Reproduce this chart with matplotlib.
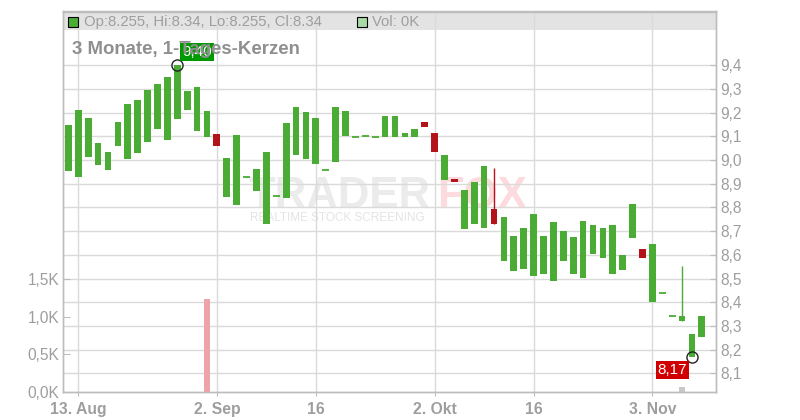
import matplotlib
matplotlib.use('Agg')
import matplotlib.pyplot as plt
from matplotlib.patches import Rectangle

plt.rcParams['font.family'] = ['Liberation Sans', 'DejaVu Sans']

# ---------------- data ----------------
opens = [8.952, 8.927, 9.012, 8.978, 8.957, 9.058, 9.003, 9.029, 9.075, 9.130,
         9.084, 9.173, 9.211, 9.122, 9.096, 9.112, 8.842, 8.809, 8.929, 8.868,
         8.732, 8.847, 8.838, 9.020, 9.003, 8.982, 8.960, 8.991, 9.101, 9.098,
         9.100, 9.098, 9.096, 9.096, 9.096, 9.096, 9.159, 9.116, 8.917, 8.922,
         8.707, 8.728, 8.715, 8.795, 8.576, 8.533, 8.542, 8.512, 8.521, 8.491,
         8.576, 8.521, 8.504, 8.603, 8.588, 8.521, 8.538, 8.673, 8.625, 8.402,
         8.438, 8.340, 8.322, 8.169, 8.255]
closes = [9.146, 9.210, 9.176, 9.074, 9.032, 9.159, 9.235, 9.252, 9.294, 9.320,
          9.349, 9.400, 9.290, 9.307, 9.205, 9.058, 9.010, 9.104, 8.929, 8.964,
          9.036, 8.847, 9.156, 9.226, 9.201, 9.176, 8.960, 9.226, 9.205, 9.098,
          9.104, 9.098, 9.184, 9.188, 9.113, 9.130, 9.139, 9.036, 9.023, 8.906,
          8.875, 8.909, 8.977, 8.732, 8.761, 8.680, 8.714, 8.773, 8.680, 8.740,
          8.701, 8.676, 8.744, 8.727, 8.714, 8.727, 8.600, 8.816, 8.588, 8.646,
          8.438, 8.340, 8.342, 8.265, 8.340]
highs = [9.146, 9.210, 9.176, 9.074, 9.032, 9.159, 9.235, 9.252, 9.294, 9.320,
         9.349, 9.400, 9.290, 9.307, 9.205, 9.112, 9.010, 9.104, 8.929, 8.964,
         9.036, 8.847, 9.156, 9.226, 9.201, 9.176, 8.960, 9.226, 9.205, 9.098,
         9.104, 9.098, 9.184, 9.188, 9.113, 9.130, 9.159, 9.116, 9.023, 8.922,
         8.875, 8.909, 8.977, 8.968, 8.761, 8.680, 8.714, 8.773, 8.680, 8.740,
         8.701, 8.676, 8.744, 8.727, 8.714, 8.727, 8.600, 8.816, 8.625, 8.646,
         8.438, 8.340, 8.552, 8.265, 8.340]
lows = [8.952, 8.927, 9.012, 8.978, 8.957, 9.058, 9.003, 9.029, 9.075, 9.130,
        9.084, 9.173, 9.211, 9.122, 9.096, 9.058, 8.842, 8.809, 8.929, 8.868,
        8.732, 8.847, 8.838, 9.020, 9.003, 8.982, 8.960, 8.991, 9.101, 9.098,
        9.100, 9.098, 9.096, 9.096, 9.096, 9.096, 9.139, 9.036, 8.917, 8.906,
        8.707, 8.728, 8.715, 8.732, 8.576, 8.533, 8.542, 8.512, 8.521, 8.491,
        8.576, 8.521, 8.504, 8.603, 8.588, 8.521, 8.538, 8.673, 8.588, 8.402,
        8.438, 8.340, 8.322, 8.169, 8.255]
volumes_k = [0.0] * 14 + [1.24] + [0.0] * 47 + [0.067] + [0.0, 0.0]

date_tick_idx = [1, 15, 25, 37, 47, 59]
date_labels = ['13. Aug', '2. Sep', '16', '2. Okt', '16', '3. Nov']
price_ticks = [8.1, 8.2, 8.3, 8.4, 8.5, 8.6, 8.7, 8.8, 8.9, 9.0, 9.1, 9.2, 9.3, 9.4]
vol_ticks = [0.0, 0.5, 1.0, 1.5]

title = '3 Monate, 1-Tages-Kerzen'
hi_idx, lo_idx = 11, 63

# ---------------- style ----------------
GREEN = '#4aab35'
RED = '#b3141a'
GRID = '#dadada'
TXT = '#9e9e9e'
SPINE = '#bdbdbd'
W, H, DPI = 800, 420, 100

fig = plt.figure(figsize=(W / DPI, H / DPI), dpi=DPI)
L, R, B, T = 63.3, 716, 392, 11.5
ax = fig.add_axes([L / W, 1 - B / H, (R - L) / W, (B - T) / H])
axv = ax.twinx()

n = len(opens)
xs = list(range(n))
ax.set_xlim(-0.515, 65.43)
ax.set_ylim(8.021, 9.627)
axv.set_ylim(0, 5.073)

# header band
ax.add_patch(Rectangle((0, 0.9514), 1, 1 - 0.9514, transform=ax.transAxes,
                       facecolor='#e3e3e3', edgecolor='none', zorder=0.1))

# grid
ax.set_axisbelow(True)
ax.set_yticks(price_ticks)
ax.set_yticklabels([f'{p:.1f}'.replace('.', ',') for p in price_ticks])
ax.set_xticks(date_tick_idx)
ax.set_xticklabels(date_labels)
ax.grid(True, color=GRID, linewidth=1)

# watermark
ax.text(0.283, 0.4836, 'TRADER', transform=ax.transAxes, fontsize=31.5, fontweight='bold',
        color='#ebebeb', zorder=0.3, va='baseline')
ax.text(0.5725, 0.4836, 'FOX', transform=ax.transAxes, fontsize=31.5, fontweight='bold',
        color='#fcdadd', zorder=0.3, va='baseline')
ax.text(0.286, 0.4565, 'REALTIME STOCK SCREENING', transform=ax.transAxes, fontsize=8.5,
        color='#e4e4e4', zorder=0.3, va='center')

# candles
bw = 0.68
for i in xs:
    o, c = opens[i], closes[i]
    col = GREEN if c >= o else RED
    if highs[i] > max(o, c) + 1e-9 or lows[i] < min(o, c) - 1e-9:
        ax.vlines(i, lows[i], highs[i], color=col, linewidth=1, zorder=2)
    if abs(c - o) < 0.006:
        ax.hlines((o + c) / 2, i - bw / 2, i + bw / 2, color=GREEN, linewidth=1.3, zorder=3)
    else:
        ax.bar(i, abs(c - o), bottom=min(o, c), width=bw, color=col, linewidth=0, zorder=3)

# volume bars
vol_colors = ['#eea3aa' if v > 1 else '#c9c9c9' for v in volumes_k]
axv.bar(xs, volumes_k, width=bw, color=vol_colors, linewidth=0, zorder=2)

# high / low markers and labels
ax.plot(hi_idx, highs[hi_idx], 'o', mfc='none', mec='#222222', ms=8, mew=1, zorder=5)
ax.plot(lo_idx, lows[lo_idx], 'o', mfc='none', mec='#222222', ms=8, mew=1, zorder=5)
ax.annotate(f'{highs[hi_idx]:.2f}'.replace('.', ','), xy=(hi_idx, highs[hi_idx]),
            xytext=(5, 6), textcoords='offset pixels', ha='left', va='bottom',
            color='white', fontsize=11,
            bbox=dict(boxstyle='square,pad=0.12', fc='#009900', ec='none'), zorder=6)
ax.annotate(f'{lows[lo_idx]:.2f}'.replace('.', ','), xy=(lo_idx, lows[lo_idx]),
            xytext=(-5, -6), textcoords='offset pixels', ha='right', va='top',
            color='white', fontsize=11,
            bbox=dict(boxstyle='square,pad=0.12', fc='#d10000', ec='none'), zorder=6)

# axes styling
ax.yaxis.tick_right()
ax.tick_params(axis='y', direction='in', length=4, color=SPINE, labelcolor=TXT,
               labelsize=11.2, pad=3, left=False, right=True)
ax.tick_params(axis='x', direction='out', length=3, color=SPINE, labelcolor=TXT,
               labelsize=11.3, pad=4)
for lbl in ax.get_xticklabels():
    lbl.set_fontweight('bold')

axv.yaxis.tick_left()
axv.set_yticks(vol_ticks)
axv.set_yticklabels([f'{v:.1f}'.replace('.', ',') + 'K' for v in vol_ticks])
axv.tick_params(axis='y', direction='in', length=5, color=SPINE, labelcolor=TXT,
                labelsize=11.2, pad=3)
for a in (ax, axv):
    for s in a.spines.values():
        s.set_color(SPINE)
        s.set_linewidth(1)

# header texts
def fx(px):
    return px / W

def fy(py):
    return 1 - py / H

fig.patches.append(Rectangle((fx(68.3), fy(26.7)), 10 / W, 10 / H, transform=fig.transFigure,
                             facecolor=GREEN, edgecolor='black', linewidth=0.8, zorder=5))
fig.text(fx(84), fy(26.3), f'Op:{opens[-1]:g}, Hi:{highs[-1]:g}, Lo:{lows[-1]:g}, Cl:{closes[-1]:g}',
         color=TXT, fontsize=10.7, va='baseline', ha='left', zorder=10)
fig.patches.append(Rectangle((fx(357.3), fy(26.7)), 10 / W, 10 / H, transform=fig.transFigure,
                             facecolor='#a9dba4', edgecolor='black', linewidth=0.8, zorder=5))
fig.text(fx(372), fy(26.3), f'Vol: {volumes_k[-1]:.0f}K', color=TXT, fontsize=10.7,
         va='baseline', ha='left', zorder=10)
fig.text(fx(72), fy(54.5), title, color='#8f8f8f', fontsize=13.4, fontweight='bold',
         va='baseline', ha='left', zorder=10)

fig.savefig('out.png', dpi=DPI)
